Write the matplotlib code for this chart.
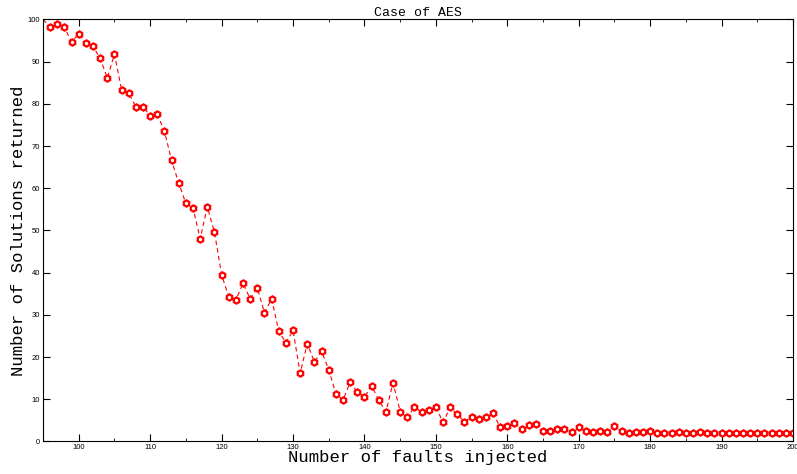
import matplotlib
matplotlib.use('Agg')
import matplotlib.pyplot as plt
from matplotlib.ticker import MultipleLocator
import numpy as np

# faults injected (x) and number of solutions returned (y)
faults = np.arange(95, 201)
solutions = [
    100.0,
    98.2, 99.0, 98.1, 94.7, 96.6, 94.4, 93.6, 90.8, 86.1, 91.8,   # 96-105
    83.3, 82.5, 79.3, 79.3, 77.2, 77.5, 73.5, 66.6, 61.2, 56.4,   # 106-115
    55.4, 48.0, 55.6, 49.6, 39.5, 34.3, 33.5, 37.5, 33.8, 36.4,   # 116-125
    30.5, 33.8, 26.2, 23.4, 26.3, 16.2, 23.2, 18.8, 21.4, 17.0,   # 126-135
    11.3, 9.8, 14.1, 11.7, 10.5, 13.2, 9.8, 7.0, 13.9, 7.1,       # 136-145
    5.7, 8.2, 6.9, 7.5, 8.2, 4.5, 8.1, 6.4, 4.7, 5.9,             # 146-155
    5.3, 5.7, 6.7, 3.4, 3.7, 4.3, 3.0, 3.8, 4.2, 2.6,             # 156-165
    2.6, 3.0, 3.0, 2.3, 3.4, 2.6, 2.2, 2.6, 2.2, 3.7,             # 166-175
    2.4, 2.1, 2.3, 2.3, 2.4, 2.1, 2.0, 2.0, 2.3, 2.0,             # 176-185
    2.1, 2.2, 2.1, 2.0, 2.0, 2.0, 2.0, 2.0, 2.0, 2.0,             # 186-195
    2.1, 2.0, 2.1, 1.9, 2.1,                                      # 196-200
]

fig = plt.figure(figsize=(7.97, 4.74), dpi=100)
ax = fig.add_axes([0.054, 0.0686, 0.941, 0.8903])

ax.plot(faults, solutions, color='red', linestyle=(0, (4, 3)), linewidth=0.8,
        marker='h', markersize=4.5, markerfacecolor='white',
        markeredgecolor='red', markeredgewidth=1.6, markevery=slice(1, None))

ax.set_xlim(95, 200)
ax.set_ylim(0, 100)
ax.xaxis.set_major_locator(MultipleLocator(10))
ax.xaxis.set_minor_locator(MultipleLocator(5))
ax.yaxis.set_major_locator(MultipleLocator(10))
ax.tick_params(which='both', direction='in', top=True, right=True,
               labelsize=5.5, pad=2)
ax.tick_params(which='major', length=5)
ax.tick_params(which='minor', length=2.5)
for lab in ax.get_xticklabels() + ax.get_yticklabels():
    lab.set_family('Liberation Sans')

mono = 'Liberation Mono'
ax.set_title('Case of AES', family=mono, fontsize=9.5, pad=2)
ax.set_xlabel('Number of faults injected', family=mono, fontsize=12.4, labelpad=-1)
ax.set_ylabel('Number of Solutions returned', family=mono, fontsize=12.4, labelpad=1)

fig.savefig('out.png', dpi=100)
